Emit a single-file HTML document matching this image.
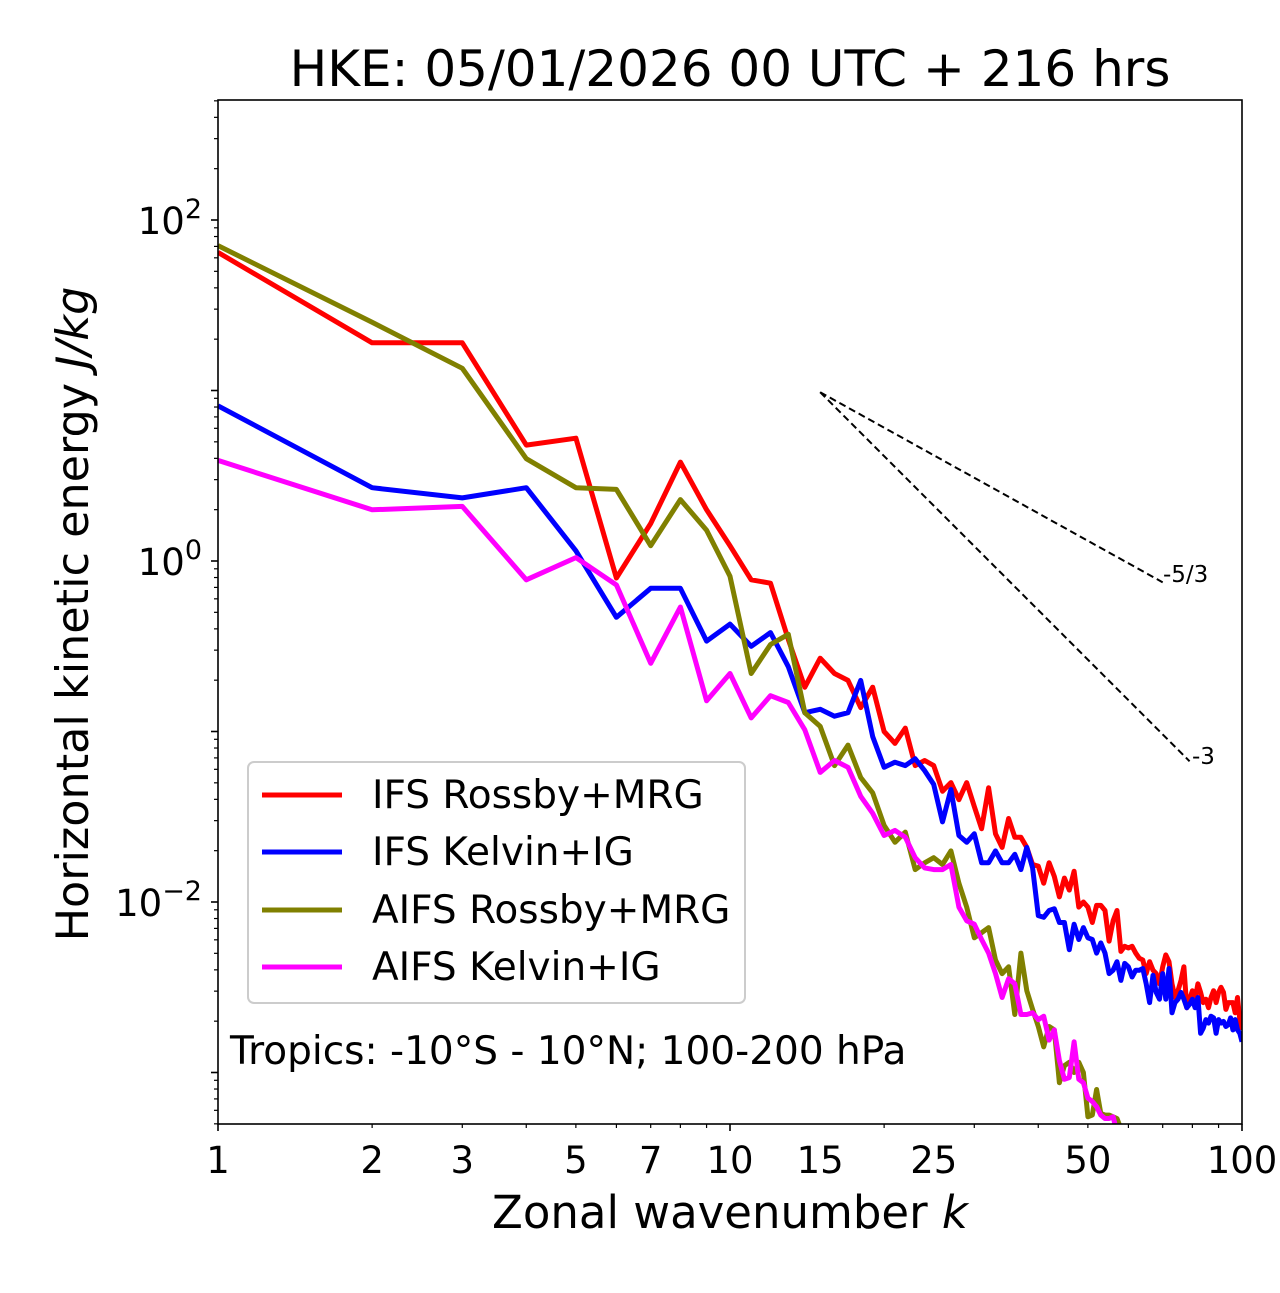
<!DOCTYPE html>
<html><head><meta charset="utf-8"><style>
body{margin:0;background:#fff;}
svg text{font-family:"DejaVu Sans","Liberation Sans",sans-serif;fill:#000;}
</style></head><body>
<svg id="chart" width="1280" height="1288" xmlns="http://www.w3.org/2000/svg">
<defs><clipPath id="clip"><rect x="218" y="100" width="1024" height="1024"/></clipPath></defs>
<text x="730" y="86" font-size="50" text-anchor="middle">HKE: 05/01/2026 00 UTC + 216 hrs</text>
<g id="ticks"></g>
<g id="series" clip-path="url(#clip)"></g>
<rect x="218" y="100" width="1024" height="1024" fill="none" stroke="#000" stroke-width="1.6"/>
<text x="730" y="1228" font-size="45" text-anchor="middle">Zonal wavenumber <tspan font-style="italic">k</tspan></text>
<text transform="translate(88,614) rotate(-90)" font-size="44.5" text-anchor="middle">Horizontal kinetic energy <tspan font-style="italic">J/kg</tspan></text>
<text x="1163" y="582" font-size="23">-5/3</text>
<text x="1192" y="764" font-size="23">-3</text>
<g>
<rect x="248" y="762" width="497" height="241" rx="6" fill="#fff" fill-opacity="0.8" stroke="#ccc" stroke-width="2"/>
<line x1="262" y1="795" x2="342" y2="795" stroke="#ff0000" stroke-width="5"/>
<text x="372" y="808" font-size="39">IFS Rossby+MRG</text>
<line x1="262" y1="852" x2="342" y2="852" stroke="#0000ff" stroke-width="5"/>
<text x="372" y="865" font-size="39">IFS Kelvin+IG</text>
<line x1="262" y1="910" x2="342" y2="910" stroke="#808000" stroke-width="5"/>
<text x="372" y="923" font-size="39">AIFS Rossby+MRG</text>
<line x1="262" y1="967" x2="342" y2="967" stroke="#ff00ff" stroke-width="5"/>
<text x="372" y="980" font-size="39">AIFS Kelvin+IG</text>
</g>
<text x="230" y="1064" font-size="39">Tropics: -10°S - 10°N; 100-200 hPa</text>
</svg>
<script>
// log10 of energy (J/kg), wavenumber k = 1,2,3,...
const ifsRossbyLog = [1.81,1.28,1.28,0.68,0.72,-0.10,0.22,0.58,0.30,0.09,-0.11,-0.13,-0.46,-0.74,-0.57,-0.66,-0.70,-0.86,-0.74,-1.00,-1.07,-0.98,-1.20,-1.17,-1.20,-1.35,-1.30,-1.40,-1.30,-1.44,-1.57,-1.33,-1.60,-1.68,-1.51,-1.62,-1.62,-1.68,-1.78,-1.79,-1.89,-1.77,-1.85,-1.97,-1.86,-1.93,-1.82,-2.03,-2.00,-2.03,-2.12,-2.02,-2.02,-2.05,-2.23,-2.11,-2.05,-2.29,-2.26,-2.27,-2.26,-2.30,-2.33,-2.34,-2.42,-2.35,-2.40,-2.42,-2.48,-2.38,-2.31,-2.35,-2.48,-2.56,-2.52,-2.46,-2.38,-2.62,-2.57,-2.52,-2.57,-2.48,-2.53,-2.59,-2.57,-2.62,-2.56,-2.52,-2.59,-2.53,-2.50,-2.53,-2.63,-2.59,-2.59,-2.59,-2.65,-2.56,-2.69,-2.75];
const ifsKelvinLog = [0.91,0.43,0.37,0.43,0.06,-0.33,-0.16,-0.16,-0.47,-0.37,-0.50,-0.42,-0.62,-0.89,-0.87,-0.91,-0.89,-0.70,-1.03,-1.21,-1.18,-1.20,-1.16,-1.23,-1.31,-1.53,-1.34,-1.61,-1.65,-1.60,-1.77,-1.77,-1.70,-1.77,-1.77,-1.72,-1.81,-1.68,-1.80,-2.08,-2.09,-2.05,-2.04,-2.12,-2.12,-2.28,-2.13,-2.22,-2.15,-2.21,-2.22,-2.30,-2.24,-2.30,-2.42,-2.40,-2.35,-2.46,-2.36,-2.38,-2.44,-2.40,-2.40,-2.39,-2.48,-2.59,-2.43,-2.53,-2.57,-2.42,-2.57,-2.39,-2.65,-2.59,-2.57,-2.53,-2.57,-2.62,-2.60,-2.57,-2.62,-2.56,-2.77,-2.74,-2.69,-2.71,-2.67,-2.68,-2.77,-2.69,-2.71,-2.70,-2.73,-2.72,-2.68,-2.75,-2.69,-2.75,-2.77,-2.82];
const aifsRossbyLog = [1.85,1.40,1.13,0.60,0.43,0.42,0.09,0.36,0.18,-0.09,-0.66,-0.49,-0.43,-0.89,-0.97,-1.20,-1.08,-1.27,-1.36,-1.55,-1.65,-1.59,-1.81,-1.77,-1.74,-1.78,-1.70,-1.89,-2.03,-2.21,-2.18,-2.15,-2.34,-2.42,-2.38,-2.66,-2.30,-2.52,-2.63,-2.73,-2.85,-2.73,-2.75,-3.06,-2.96,-2.94,-3.00,-2.94,-3.00,-3.26,-3.25,-3.10,-3.24,-3.25,-3.25,-3.26,-3.27,-3.33,-3.38,-3.40];
const aifsKelvinLog = [0.59,0.30,0.32,-0.11,0.02,-0.14,-0.60,-0.27,-0.82,-0.66,-0.92,-0.79,-0.83,-0.99,-1.24,-1.17,-1.21,-1.38,-1.48,-1.61,-1.58,-1.62,-1.74,-1.80,-1.81,-1.81,-1.78,-2.03,-2.11,-2.13,-2.22,-2.30,-2.42,-2.56,-2.45,-2.48,-2.66,-2.66,-2.65,-2.69,-2.67,-2.81,-2.75,-2.93,-3.04,-3.03,-2.82,-3.04,-3.06,-3.15,-3.17,-3.20,-3.25,-3.27,-3.27,-3.26,-3.35];
const xTickLabels = [1,2,3,5,7,10,15,25,50,100];
const yTickExps = [-2,0,2];
const refStartK = 15, refStartLog = 0.99;
const refSlopes = [-5/3, -3];
const refEndK = [70, 79];

const NS = "http://www.w3.org/2000/svg";
const X0 = 218, XPD = 512, Y2 = 220, YPD = 170.5;
function xs(k){ return X0 + XPD*Math.log10(k); }
function ysLog(l){ return Y2 + (2 - l)*YPD; }
function mk(tag, attrs, parent){ const e=document.createElementNS(NS,tag); for(const a in attrs) e.setAttribute(a,attrs[a]); parent.appendChild(e); return e; }
const ticks = document.getElementById('ticks');
const series = document.getElementById('series');

for(let d=0; d<2; d++){
  for(let m=1; m<=10; m++){
    if(d===1 && m===1) continue;
    const k = m*Math.pow(10,d);
    const major = (m===1||m===10);
    const t = mk('line',{x1:xs(k),x2:xs(k),y1:1124,y2:1124+(major?7:4),stroke:'#000','stroke-width':major?1.6:1.2},ticks);
    
    
  }
}
xTickLabels.forEach(v=>{
  const t = mk('text',{x:xs(v),y:1173,'font-size':37,'text-anchor':'middle'},ticks);
  t.textContent = v;
  
  
});
for(let e=-4; e<=2; e++){
  for(let m=1; m<=9; m++){
    const l = e + Math.log10(m);
    const y = ysLog(l);
    if(y<100||y>1124) continue;
    const major = m===1;
    const t = mk('line',{x1:218-(major?7:4),x2:218,y1:y,y2:y,stroke:'#000','stroke-width':major?1.6:1.2},ticks);
    
    
  }
}
yTickExps.forEach(e=>{
  const t = mk('text',{x:202,y:ysLog(e)+14,'font-size':37,'text-anchor':'end'},ticks);
  
  
  t.innerHTML = '10<tspan dy="-16" font-size="27">'+(e<0?'\u2212'+(-e):e)+'</tspan>';
});
refSlopes.forEach((s,i)=>{
  const endLog = refStartLog + s*Math.log10(refEndK[i]/refStartK);
  const l = mk('line',{x1:xs(refStartK),y1:ysLog(refStartLog),x2:xs(refEndK[i]),y2:ysLog(endLog),stroke:'#000','stroke-width':2,'stroke-dasharray':'7,4'},document.getElementById('chart'));
  
  
});
function draw(arr,color,name){
  const pts = arr.map((v,i)=>xs(i+1).toFixed(1)+','+ysLog(v).toFixed(1)).join(' ');
  const p = mk('polyline',{points:pts,fill:'none',stroke:color,'stroke-width':5,'stroke-linejoin':'round'},series);
  
  
}
draw(ifsRossbyLog,'#ff0000','line-ifs-rossby-mrg');
draw(ifsKelvinLog,'#0000ff','line-ifs-kelvin-ig');
draw(aifsRossbyLog,'#808000','line-aifs-rossby-mrg');
draw(aifsKelvinLog,'#ff00ff','line-aifs-kelvin-ig');
</script>
</body></html>
